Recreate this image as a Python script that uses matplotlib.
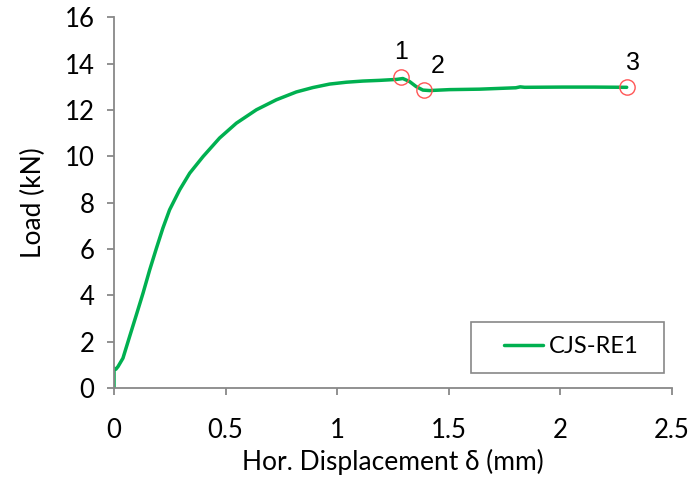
import matplotlib
matplotlib.use("Agg")
import matplotlib.pyplot as plt
from matplotlib.patches import Rectangle

disp = [0, 0, 0.008, 0.018, 0.04, 0.07, 0.10, 0.13, 0.16, 0.19, 0.219, 0.249, 0.294,
        0.339, 0.399, 0.473, 0.548, 0.638, 0.727, 0.817, 0.891, 0.966, 1.041, 1.115,
        1.19, 1.265, 1.294, 1.324, 1.354, 1.384, 1.414, 1.503, 1.638, 1.80, 1.82, 1.84,
        2.01, 2.15, 2.297]
load = [0, 0.85, 0.80, 0.92, 1.28, 2.22, 3.15, 4.09, 5.1, 6.03, 6.9, 7.69, 8.55,
        9.27, 9.99, 10.79, 11.43, 12.01, 12.44, 12.78, 12.97, 13.12, 13.2, 13.25,
        13.28, 13.32, 13.36, 13.23, 13.01, 12.86, 12.84, 12.88, 12.9, 12.96, 13.0, 12.98,
        12.99, 12.99, 12.98]

pt_x = [1.284, 1.39, 2.297]
pt_y = [13.42, 12.85, 13.0]
pt_labels = ["1", "2", "3"]
label_x = [1.287, 1.451, 2.327]
label_y = [14.5, 13.9, 14.03]

xticks = [0, 0.5, 1, 1.5, 2, 2.5]
xticklabels = ["0", "0.5", "1", "1.5", "2", "2.5"]
yticks = [0, 2, 4, 6, 8, 10, 12, 14, 16]

fam = ['Lato', 'DejaVu Sans']
plt.rcParams['font.family'] = fam

fig = plt.figure(figsize=(6.91, 4.83), dpi=100)
ax = fig.add_axes([0.165, 0.197, 0.8075, 0.767])

ax.plot(disp, load, color='#00B050', lw=2.5, label='CJS-RE1',
        solid_capstyle='round', solid_joinstyle='round')
ax.plot(pt_x, pt_y, linestyle='none', marker='o', ms=11, mfc='none', mec='#FF5555', mew=1.0)
for lx, ly, t in zip(label_x, label_y, pt_labels):
    ax.text(lx, ly, t, fontsize=18, family=['Liberation Sans'], ha='center', va='center',
            color='black')

ax.set_xlim(0, 2.5)
ax.set_ylim(0, 16)
ax.set_xticks(xticks)
ax.set_xticklabels(xticklabels)
ax.set_yticks(yticks)
for s in ['top', 'right']:
    ax.spines[s].set_visible(False)
for s in ['left', 'bottom']:
    ax.spines[s].set_color('#888888')
    ax.spines[s].set_linewidth(1.3)
ax.tick_params(axis='both', direction='out', length=5, width=1.3, color='#888888',
               labelsize=18.5, labelcolor='black')
ax.tick_params(axis='x', pad=17)
ax.tick_params(axis='y', pad=9)
ax.set_xlabel('Hor. Displacement δ (mm)', fontsize=19, labelpad=4)
ax.set_ylabel('Load (kN)', fontsize=19, labelpad=13)

ax.add_patch(Rectangle((0.640, 0.0405), 0.346, 0.1375, transform=ax.transAxes,
                       fill=False, edgecolor='#888888', lw=1.2, clip_on=False, zorder=5))
leg = ax.legend(loc='center left', bbox_to_anchor=(0.699, 0.111), fontsize=17, frameon=False,
                handlelength=1.65, borderpad=0, handletextpad=0.25, borderaxespad=0)

fig.savefig('out.png', dpi=100)
